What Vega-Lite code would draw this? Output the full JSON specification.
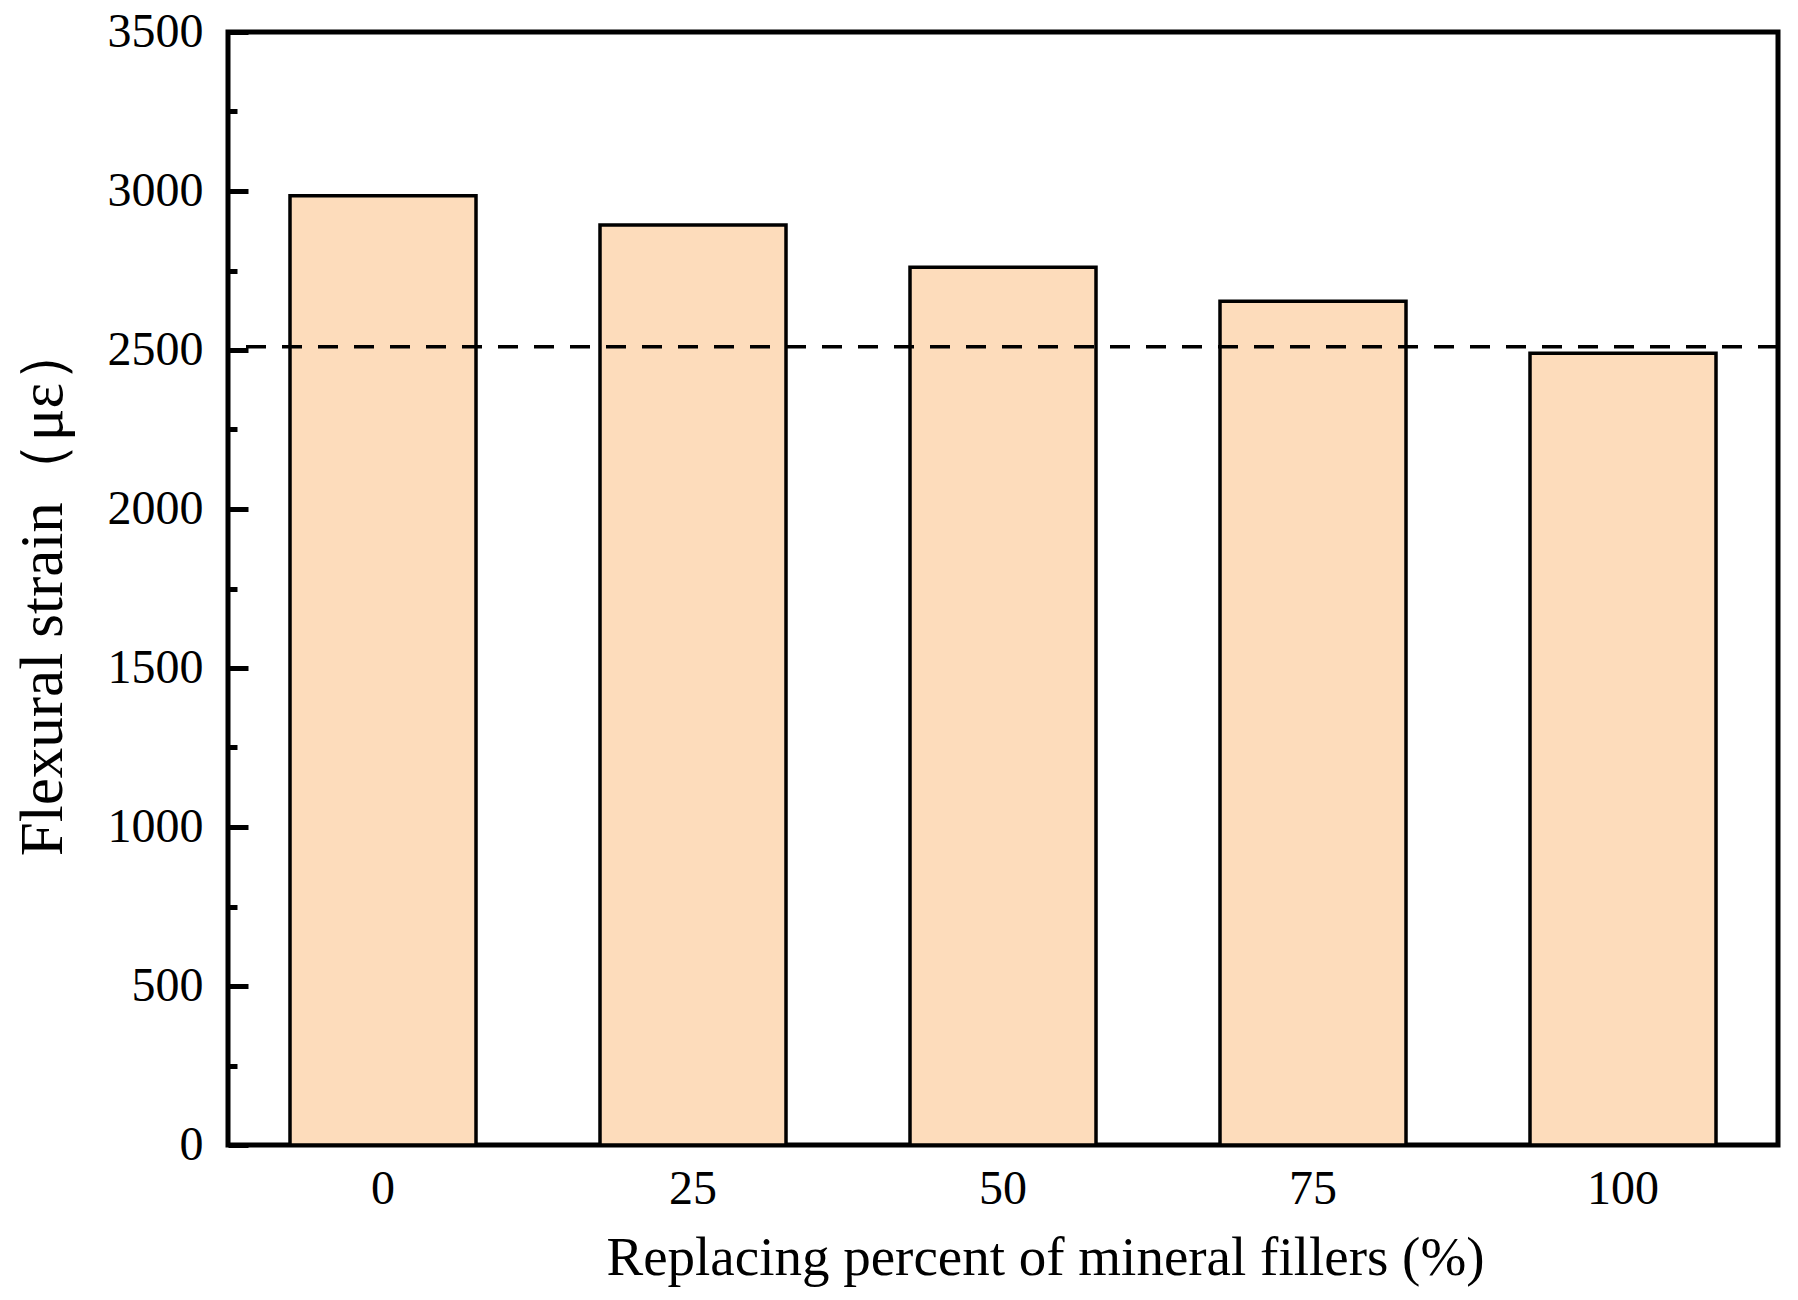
{
  "$schema": "https://vega.github.io/schema/vega-lite/v6.json",
  "width": 1550,
  "height": 1113,
  "autosize": {"type": "none"},
  "padding": {"left": 228, "top": 32, "right": 20, "bottom": 155},
  "background": "white",
  "config": {
    "view": {"stroke": "black", "strokeWidth": 5},
    "axis": {
      "grid": false,
      "domain": false,
      "labelFont": "Liberation Serif",
      "titleFont": "Liberation Serif",
      "labelColor": "black",
      "titleColor": "black",
      "labelFontSize": 48,
      "titleFontSize": 58,
      "titleFontWeight": "normal"
    }
  },
  "layer": [
    {
      "data": {"values": [
        {"pct": "0", "strain": 2985},
        {"pct": "25", "strain": 2893},
        {"pct": "50", "strain": 2760},
        {"pct": "75", "strain": 2653},
        {"pct": "100", "strain": 2490}
      ]},
      "mark": {"type": "bar", "fill": "#FDDCBB", "stroke": "black", "strokeWidth": 3.5},
      "encoding": {
        "x": {
          "field": "pct", "type": "ordinal", "sort": null,
          "scale": {"paddingInner": 0.4, "paddingOuter": 0.2},
          "axis": {"labelAngle": 0, "ticks": false, "labelPadding": 20, "title": "Replacing percent of mineral fillers (%)", "titleFontSize": 55, "titlePadding": 18, "titleX": 817}
        },
        "y": {
          "field": "strain", "type": "quantitative",
          "scale": {"domain": [0, 3500], "nice": false},
          "axis": {"values": [0, 500, 1000, 1500, 2000, 2500, 3000, 3500], "format": "d", "tickSize": -20, "tickWidth": 5, "tickColor": "black", "labelPadding": 45, "title": "Flexural strain（με）", "titleFontSize": 61, "titlePadding": 33}
        }
      }
    },
    {
      "data": {"values": [{"ref": 2510}]},
      "mark": {"type": "rule", "strokeDash": [20, 16], "strokeWidth": 3.5, "color": "black"},
      "encoding": {
        "y": {
          "field": "ref", "type": "quantitative",
          "axis": {"orient": "left", "values": [250, 750, 1250, 1750, 2250, 2750, 3250], "labels": false, "title": null, "tickSize": -9, "tickWidth": 5, "tickColor": "black"}
        }
      }
    }
  ],
  "resolve": {"axis": {"y": "independent"}}
}
